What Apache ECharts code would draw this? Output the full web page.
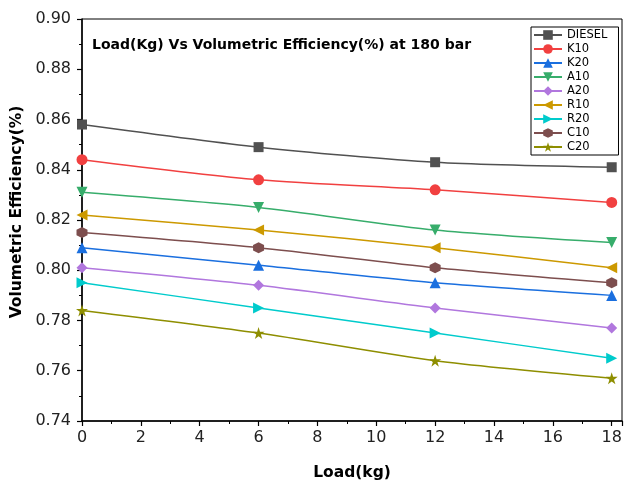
<!DOCTYPE html>
<html>
<head>
<meta charset="utf-8">
<script src="https://cdn.jsdelivr.net/npm/echarts@6/dist/echarts.min.js"></script>
<style>
  html, body { margin: 0; padding: 0; background: #fff; }
  #chart { width: 627px; height: 484px; }
</style>
</head>
<body>
<div id="chart"></div>
<script>
const loads = [0, 6, 12, 18];
const seriesNames = ['DIESEL', 'K10', 'K20', 'A10', 'A20', 'R10', 'R20', 'C10', 'C20'];
const diesel = [0.858, 0.849, 0.843, 0.841];
const k10 = [0.844, 0.836, 0.832, 0.827];
const k20 = [0.809, 0.802, 0.795, 0.790];
const a10 = [0.831, 0.825, 0.816, 0.811];
const a20 = [0.801, 0.794, 0.785, 0.777];
const r10 = [0.822, 0.816, 0.809, 0.801];
const r20 = [0.795, 0.785, 0.775, 0.765];
const c10 = [0.815, 0.809, 0.801, 0.795];
const c20 = [0.784, 0.775, 0.764, 0.757];
const yTicks = [0.74, 0.76, 0.78, 0.80, 0.82, 0.84, 0.86, 0.88, 0.90];

const values = [diesel, k10, k20, a10, a20, r10, r20, c10, c20];
const colors = ['#515151', '#F14040', '#1A6FDF', '#37AD6B', '#B177DE', '#CC9900', '#00CBCC', '#7D4E4E', '#8E8E00'];

const star = 'path://M50,0 L61.8,36.3 L100,36.3 L69.1,58.8 L80.9,95.1 L50,72.6 L19.1,95.1 L30.9,58.8 L0,36.3 L38.2,36.3 Z';
const hexagon = 'path://M50,0 L93.3,25 L93.3,75 L50,100 L6.7,75 L6.7,25 Z';
const symbols = [
    'rect',
    'circle',
    'triangle',
    'path://M0,0 L100,0 L50,90 Z',
    'diamond',
    'path://M0,50 L90,0 L90,100 Z',
    'path://M100,50 L10,0 L10,100 Z',
    hexagon,
    star
];
const sizes = [10, 11, 11, 11, 11, 11, 11, 11, 12];

const font = 'DejaVu Sans, Arial, sans-serif';

let series = [];
for (let i = 0; i < seriesNames.length; i++) {
    series.push({
        name: seriesNames[i],
        type: 'line',
        smooth: 0.25,
        data: loads.map((x, j) => [x, values[i][j]]),
        symbol: symbols[i],
        symbolSize: sizes[i],
        color: colors[i],
        lineStyle: { width: 1.5, color: colors[i] },
        itemStyle: { color: colors[i] }
    });
}

let chart = echarts.init(document.getElementById('chart'));
let option = {
    animation: false,
    title: {
        text: 'Load(Kg) Vs Volumetric Efficiency(%) at 180 bar',
        left: 87,
        top: 33,
        textStyle: { fontFamily: font, fontSize: 14, fontWeight: 'bold', color: '#000' }
    },
    legend: {
        orient: 'vertical',
        left: 531,
        top: 27,
        width: 85,
        data: seriesNames,
        itemWidth: 28,
        itemHeight: 12,
        itemGap: 2,
        padding: [2, 11, 2, 2],
        borderColor: '#000',
        borderWidth: 1,
        textStyle: { fontFamily: font, fontSize: 11.5, color: '#000', lineHeight: 12 }
    },
    grid: {
        left: 82,
        top: 19,
        right: 5,
        bottom: 63,
        outerBoundsMode: 'none',
        containLabel: false,
        show: true,
        borderColor: '#000',
        borderWidth: 1
    },
    xAxis: {
        type: 'value',
        min: 0,
        max: 18.35,
        interval: 2,
        name: 'Load(kg)',
        nameLocation: 'middle',
        nameGap: 44,
        nameTextStyle: { fontFamily: font, fontSize: 15.5, fontWeight: 'bold', color: '#000' },
        axisLine: { show: true, onZero: false, lineStyle: { color: '#000', width: 1.5 } },
        axisTick: { show: true, inside: false, length: 5, lineStyle: { color: '#000', width: 1.2 } },
        minorTick: { show: true, splitNumber: 2, length: 3, lineStyle: { color: '#000', width: 1 } },
        splitLine: { show: false },
        axisLabel: {
            fontFamily: font, fontSize: 16, color: '#222', margin: 9,
            formatter: v => (v > 18 ? '' : String(v))
        }
    },
    yAxis: {
        type: 'value',
        min: 0.74,
        max: 0.90,
        interval: 0.02,
        name: 'Volumetric Efficiency(%)',
        nameLocation: 'middle',
        nameGap: 57,
        nameTextStyle: { fontFamily: font, fontSize: 15.5, fontWeight: 'bold', color: '#000', padding: [0, 0, 0, 16] },
        axisLine: { show: true, lineStyle: { color: '#000', width: 1.5 } },
        axisTick: { show: true, inside: false, length: 5, lineStyle: { color: '#000', width: 1.2 } },
        minorTick: { show: true, splitNumber: 2, length: 3, lineStyle: { color: '#000', width: 1 } },
        splitLine: { show: false },
        axisLabel: {
            fontFamily: font, fontSize: 16, color: '#222', margin: 11,
            formatter: v => v.toFixed(2)
        }
    },
    series
};

option && chart.setOption(option);
</script>
</body>
</html>
